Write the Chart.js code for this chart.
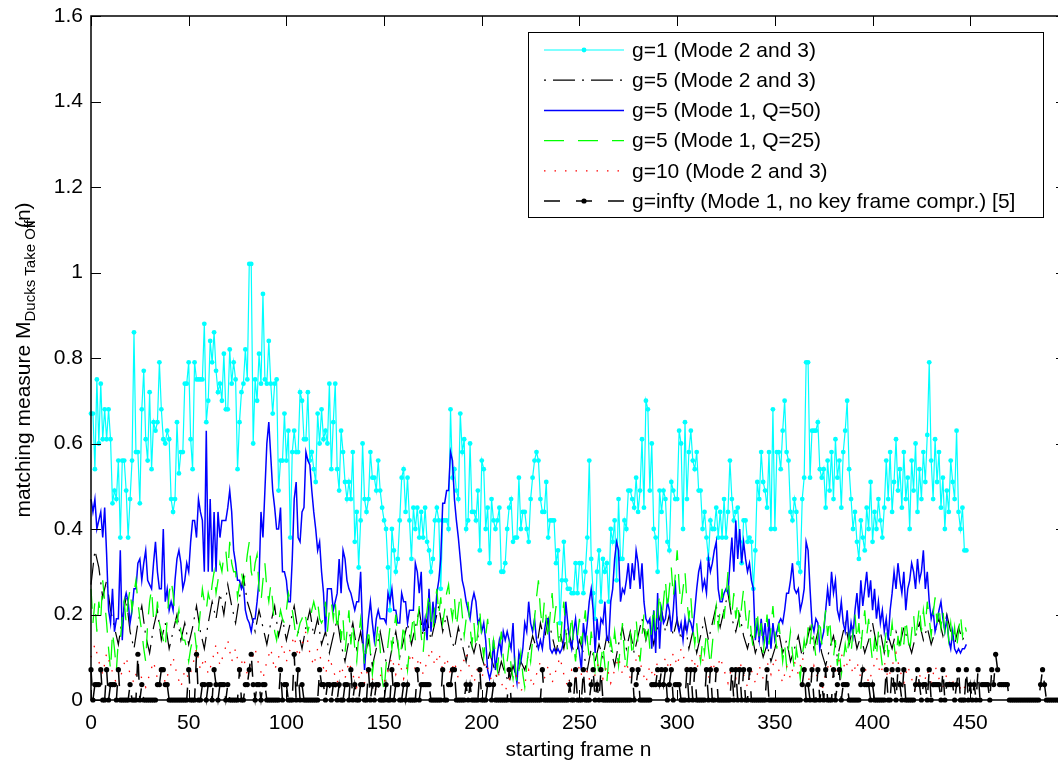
<!DOCTYPE html>
<html>
<head>
<meta charset="utf-8">
<script src="https://cdn.jsdelivr.net/npm/chart.js@4.4.1/dist/chart.umd.min.js"></script>
<style>
html, body { margin: 0; padding: 0; background: #fff; overflow: hidden; }
#wrap { position: relative; width: 1080px; height: 765px; }
</style>
</head>
<body>
<div id="wrap"><canvas id="chart" width="1080" height="765"></canvas></div>
<script>
// tick labels
const xTicks = [0, 50, 100, 150, 200, 250, 300, 350, 400, 450];
const yTicks = [0, 0.2, 0.4, 0.6, 0.8, 1, 1.2, 1.4, 1.6];

const seriesLabels = [
    'g=1 (Mode 2 and 3)',
    'g=5 (Mode 2 and 3)',
    'g=5 (Mode 1, Q=50)',
    'g=5 (Mode 1, Q=25)',
    'g=10 (Mode 2 and 3)',
    'g=infty (Mode 1, no key frame compr.) [5]'
];

// g=1 (Mode 2 and 3), one value per frame from 0
const g1Mode23 = [
    0.67,0.67,0.54,0.75,0.60,0.74,0.61,0.68,0.61,0.68,
    0.61,0.46,0.49,0.47,0.56,0.38,0.56,0.56,0.49,0.38,
    0.47,0.56,0.86,0.58,0.58,0.46,0.68,0.77,0.61,0.56,
    0.72,0.54,0.65,0.63,0.65,0.79,0.68,0.61,0.60,0.63,
    0.61,0.47,0.44,0.47,0.65,0.53,0.58,0.58,0.74,0.74,
    0.79,0.61,0.54,0.79,0.75,0.75,0.75,0.75,0.88,0.65,
    0.70,0.84,0.79,0.86,0.77,0.72,0.74,0.70,0.81,0.68,
    0.68,0.82,0.74,0.79,0.75,0.54,0.65,0.72,0.74,0.82,
    0.75,1.02,1.02,0.60,0.75,0.70,0.81,0.74,0.95,0.75,
    0.74,0.84,0.74,0.67,0.74,0.75,0.49,0.56,0.56,0.67,
    0.56,0.63,0.38,0.58,0.63,0.58,0.58,0.72,0.70,0.61,
    0.61,0.72,0.56,0.58,0.54,0.51,0.67,0.60,0.68,0.61,
    0.63,0.60,0.74,0.54,
    0.65,0.74,0.54,0.49,0.63,0.58,0.51,0.47,
    0.51,0.47,0.58,0.37,0.44,0.31,0.42,0.60,0.47,0.44,
    0.47,0.58,0.52,0.52,0.49,0.56,0.49,0.45,0.42,0.40,
    0.31,0.21,0.40,0.35,0.30,0.33,0.42,0.52,0.54,0.44,
    0.52,0.42,0.33,0.45,0.40,0.45,0.38,0.44,0.38,0.45,
    0.37,0.35,0.30,0.33,0.42,0.45,0.42,0.26,0.42,0.42,
    0.42,0.40,0.68,0.52,0.54,0.49,0.47,0.67,0.58,0.61,
    0.40,0.42,0.60,0.44,0.44,0.42,0.49,0.35,0.56,0.54,
    0.40,0.45,0.32,0.47,0.42,0.40,0.42,0.45,0.30,0.30,
    0.32,0.40,0.45,0.47,0.37,0.38,0.38,0.52,0.40,0.44,
    0.44,0.40,0.37,0.47,0.52,0.56,0.58,0.56,0.47,0.44,
    0.44,0.51,0.38,0.42,0.42,0.42,0.32,0.35,0.18,0.28,
    0.37,0.28,0.26,0.26,0.25,0.25,0.32,
    0.25,0.32,0.32,0.25,0.30,0.38,0.56,
    0.33,0.25,0.19,0.30,0.35,0.23,0.33,0.30,0.32,0.23,
    0.40,0.37,0.42,0.28,0.47,0.33,0.33,0.42,0.40,0.49,
    0.49,0.47,0.45,0.52,0.44,0.49,0.61,0.45,0.70,0.68,
    0.49,0.60,0.40,0.38,0.30,0.49,0.44,0.49,0.47,0.37,
    0.35,0.51,0.49,0.47,0.47,0.63,0.60,0.40,0.65,0.47,
    0.58,0.63,0.56,0.54,0.58,0.49,0.49,0.40,0.44,0.38,
    0.33,0.42,0.40,0.40,0.45,0.38,0.44,0.38,0.47,0.38,
    0.44,0.56,0.47,0.42,0.44,0.45,0.37,0.32,0.42,0.42,
    0.37,0.38,0.37,0.26,0.35,0.51,0.47,0.58,0.51,0.49,
    0.45,0.58,0.40,0.68,0.40,0.58,0.58,0.54,0.63,0.70,
    0.58,0.56,0.44,0.42,0.47,0.44,0.32,0.30,0.47,0.52,
    0.79,0.79,0.52,0.63,0.63,0.63,0.65,0.54,0.52,
    0.54,0.45,0.56,0.49,0.58,0.47,0.61,0.52,0.56,0.45,0.58,0.63,0.70,0.54,0.47,0.40,
    0.44,0.37,0.33,0.42,0.38,0.35,0.45,0.40,0.51,0.37,0.44,0.40,0.47,0.42,0.38,
    0.45,0.56,0.47,0.58,0.44,0.51,0.61,0.49,0.54,0.45,0.58,0.47,0.52,0.40,0.56,
    0.49,0.60,0.44,0.54,0.47,0.58,0.51,0.62,0.79,0.56,0.47,0.61,0.51,0.58,0.45,
    0.52,0.40,0.49,0.44,0.56,0.51,0.47,0.63,0.44,0.40,0.45,0.35,0.35
];

// g=5 (Mode 2 and 3), every 2nd frame from 0
const g5Mode23 = [
    0.27,0.35,0.31,0.24,0.28,0.21,0.17,0.13,0.19,0.24,0.16,0.12,0.18,0.22,0.15,0.11,0.17,0.21,0.14,0.18,0.12,0.16,0.20,0.14,0.18,
    0.13,0.17,0.22,0.16,0.12,0.18,0.23,0.19,0.25,0.20,0.27,0.22,0.18,0.24,0.29,0.23,0.20,0.16,0.21,0.17,0.13,0.18,0.22,0.15,0.19,
    0.14,0.18,0.22,0.16,0.12,0.17,0.21,0.15,0.19,0.13,0.16,0.11,0.15,0.19,0.13,0.09,0.14,0.18,0.12,0.16,0.10,0.14,0.08,0.12,0.16,
    0.11,0.07,0.12,0.16,0.10,0.14,0.18,0.13,0.17,0.21,0.15,0.19,0.14,0.18,0.22,0.16,0.20,0.15,0.12,0.17,0.13,0.09,0.14,0.11,0.15,
    0.10,0.07,0.11,0.08,0.05,0.09,0.06,0.04,0.08,0.05,0.09,0.07,0.11,0.15,0.12,0.18,0.14,0.19,0.15,0.11,0.16,0.12,0.17,0.13,0.10,
    0.14,0.11,0.07,0.12,0.09,0.13,0.10,0.15,0.12,0.08,0.13,0.17,0.12,0.16,0.11,0.15,0.19,0.14,0.18,0.13,0.17,0.21,0.16,0.20,0.15,
    0.19,0.14,0.18,0.12,0.16,0.11,0.15,0.19,0.14,0.18,0.22,0.17,0.21,0.25,0.19,0.16,0.20,0.15,0.12,0.16,0.11,0.14,0.10,0.13,0.09,
    0.12,0.16,0.11,0.14,0.09,0.12,0.15,0.10,0.13,0.17,0.12,0.16,0.11,0.08,0.12,0.15,0.10,0.14,0.18,0.13,0.17,0.12,0.15,0.11,0.14,
    0.18,0.13,0.16,0.11,0.15,0.12,0.16,0.13,0.17,0.14,0.11,0.15,0.18,0.14,0.17,0.13,0.16,0.19,0.15,0.20,0.16,0.13,0.17,0.14,0.16
];

// g=5 (Mode 1, Q=50), one value per frame from 0
const g5Q50 = [
    0.47,0.44,0.47,0.40,0.42,0.44,0.38,0.45,0.34,0.21,
    0.18,0.26,0.16,0.19,0.19,0.35,0.14,0.23,0.25,0.23,
    0.18,0.21,0.26,0.26,0.32,0.33,0.28,0.32,0.35,0.28,
    0.27,0.26,0.32,0.37,0.30,0.26,0.26,0.40,0.23,0.26,
    0.21,0.23,0.21,0.28,0.33,0.35,0.32,0.26,0.28,0.32,
    0.30,0.37,0.42,0.42,0.38,0.47,0.44,0.42,0.30,0.63,
    0.30,0.47,0.30,0.44,0.30,0.44,0.38,0.42,0.42,0.42,
    0.45,0.49,0.44,0.35,0.32,0.28,0.28,0.26,0.27,0.21,
    0.19,0.18,0.16,0.19,0.19,0.23,0.28,0.44,0.38,0.49,
    0.60,0.65,0.57,0.49,0.45,0.40,0.40,0.45,0.30,0.30,
    0.28,0.23,0.23,0.33,0.47,0.51,0.38,0.37,0.44,0.45,
    0.58,0.56,0.55,0.49,0.44,0.40,0.35,0.37,0.30,0.25,
    0.16,0.26,
    0.26,0.26,0.21,0.23,0.25,0.33,0.25,0.35,0.33,0.28,
    0.26,0.25,0.23,0.21,0.23,0.23,0.30,0.16,0.07,0.14,
    0.19,0.23,0.18,0.14,0.19,0.21,0.19,0.19,0.19,0.18,
    0.25,0.23,0.26,0.21,0.21,0.18,0.18,0.25,0.23,0.23,
    0.18,0.21,0.21,0.21,0.32,0.30,0.25,0.30,0.16,0.19,
    0.14,0.26,0.16,0.23,0.18,0.25,0.28,0.33,0.46,0.46,
    0.49,0.49,0.58,0.56,0.47,0.42,0.38,0.33,0.28,0.26,
    0.23,0.21,0.19,0.23,0.25,0.23,0.18,0.19,0.16,0.18,
    0.14,0.07,0.05,0.07,0.14,0.07,0.11,0.14,0.11,0.16,
    0.14,0.16,0.14,0.12,0.18,0.07,0.04,0.11,0.09,0.12,
    0.18,0.16,0.23,0.18,0.16,0.19,0.14,0.12,0.14,0.12,
    0.16,0.19,0.19,0.12,0.11,0.12,0.11,0.12,0.11,0.12,
    0.14,0.23,0.18,0.14,0.12,0.16,0.19,
    0.14,0.11,0.07,0.18,0.14,0.18,0.23,0.26,0.21,0.11,
    0.19,0.14,0.19,0.18,0.23,0.14,0.14,0.23,0.26,0.33,
    0.37,0.35,0.23,0.26,0.25,0.28,0.32,0.26,0.32,0.28,
    0.35,0.32,0.26,0.32,0.23,0.19,0.18,0.19,0.12,0.21,
    0.11,0.25,0.12,0.21,0.18,0.19,0.23,0.21,0.16,0.21,
    0.28,0.18,0.16,0.18,0.14,0.19,0.16,0.19,0.18,0.16,
    0.21,0.26,0.30,0.32,0.26,0.28,0.25,0.33,0.30,0.32,
    0.35,0.37,0.26,0.23,0.23,0.25,0.26,0.25,0.32,0.38,
    0.30,0.42,0.33,0.40,0.32,0.37,0.33,0.30,0.32,0.28,
    0.26,0.14,0.18,0.14,0.19,0.14,0.18,0.12,0.19,0.12,
    0.18,0.14,0.16,0.18,0.19,0.18,0.21,0.25,0.25,0.28,
    0.32,0.26,0.25,0.26,0.21,0.23,0.26,0.37,0.35,0.26,
    0.18,0.16,0.19,0.18,0.12,0.14,
    0.16,0.21,0.26,0.22,0.30,0.25,0.28,0.21,0.19,0.23,0.18,0.16,0.21,0.14,0.18,0.15,
    0.21,0.25,0.19,0.28,0.22,0.26,0.30,0.24,0.28,0.21,0.26,0.19,0.23,0.18,0.21,
    0.16,0.19,0.14,0.21,0.25,0.30,0.26,0.32,0.28,0.25,0.30,0.21,0.26,0.28,0.32,
    0.30,0.26,0.33,0.28,0.30,0.35,0.26,0.30,0.23,0.19,0.21,0.16,0.18,0.21,0.23,
    0.19,0.16,0.19,0.14,0.12,0.16,0.12,0.11,0.12,0.11,0.12,0.12,0.13
];

// g=5 (Mode 1, Q=25), one value per frame from 0
const g5Q25 = [
    0.26,0.18,0.23,0.16,0.23,0.19,0.28,0.23,0.18,0.12,
    0.07,0.16,0.12,0.07,0.14,0.14,0.19,0.23,0.18,0.23,
    0.26,0.21,0.25,0.28,0.23,0.19,0.16,0.12,0.09,0.18,
    0.23,0.26,0.19,0.18,0.23,0.18,0.16,0.14,0.12,0.19,
    0.25,0.28,0.25,0.19,0.18,0.21,0.16,0.14,0.14,0.12,
    0.09,0.12,0.14,0.16,0.12,0.16,0.21,0.26,0.23,0.21,
    0.25,0.23,0.27,0.30,0.25,0.28,0.32,0.30,0.34,0.35,
    0.30,0.37,0.32,0.30,0.30,0.24,0.27,0.30,0.27,0.30,
    0.34,0.37,0.30,0.28,0.32,0.34,0.26,0.23,0.28,0.32,
    0.26,0.23,0.27,0.23,0.16,0.14,0.18,0.21,0.19,0.18,
    0.21,0.25,0.23,0.21,0.18,0.14,0.16,0.18,0.19,0.21,
    0.19,0.16,0.18,0.21,0.23,0.21,0.23,0.19,0.18,0.19,
    0.23,0.16,0.21,0.23,
    0.19,0.23,0.16,0.21,0.14,0.19,0.11,0.16,0.21,0.13,
    0.18,0.12,0.09,0.15,0.19,0.14,0.08,0.12,0.17,0.11,
    0.06,0.10,0.14,0.18,0.12,0.05,0.02,0.08,0.13,0.17,
    0.12,0.16,0.20,0.14,0.09,0.13,0.18,0.11,0.07,0.12,
    0.16,0.20,0.14,0.18,0.22,0.15,0.11,0.17,0.21,0.25,
    0.19,0.16,0.22,0.26,0.20,0.24,0.18,0.21,0.25,0.27,
    0.22,0.19,0.24,0.17,0.21,0.25,0.20,0.15,0.19,0.23,
    0.17,0.13,0.18,0.12,0.16,0.21,0.14,0.10,0.15,0.19,
    0.13,0.09,0.14,0.11,0.07,0.12,0.16,0.10,0.06,0.09,
    0.13,0.08,0.05,0.09,0.04,0.07,0.11,0.06,0.03,0.08,
    0.12,0.09,0.14,0.19,0.24,0.28,0.21,0.17,0.23,0.19,
    0.14,0.20,0.25,0.18,0.22,0.15,0.12,0.18,0.23,0.16,
    0.11,0.15,0.20,0.13,0.09,
    0.15,0.19,0.13,0.17,0.21,0.14,0.10,0.16,0.12,0.07,
    0.11,0.05,0.09,0.13,0.08,0.04,0.10,0.14,0.11,0.16,
    0.12,0.08,0.13,0.18,0.11,0.07,0.12,0.16,0.10,0.14,
    0.19,0.13,0.09,0.15,0.20,0.14,0.18,0.12,0.17,0.22,
    0.16,0.20,0.25,0.18,0.23,0.28,0.21,0.26,0.31,0.24,
    0.29,0.35,0.27,0.22,0.26,0.30,0.23,0.19,0.24,0.17,
    0.13,0.18,0.12,0.09,0.14,0.11,0.16,0.12,0.08,0.13,
    0.18,0.22,0.17,0.21,0.26,0.19,0.24,0.30,0.23,0.20,
    0.25,0.19,0.23,0.17,0.22,0.26,0.20,0.16,0.21,0.15,
    0.12,0.17,0.21,0.14,0.18,0.11,0.15,0.20,0.13,0.17,
    0.22,0.16,0.12,0.18,0.14,0.09,0.13,0.08,0.12,0.16,
    0.11,0.07,0.12,0.09,0.05,0.10,0.14,0.11,0.17,0.13,
    0.18,0.14,0.10,0.15,0.19,0.13,
    0.17,0.21,0.15,0.19,0.13,0.10,0.14,0.08,0.12,0.06,0.09,0.13,0.10,0.15,0.11,0.16,
    0.20,0.14,0.18,0.12,0.17,0.21,0.15,0.19,0.13,0.09,0.14,0.10,0.16,0.12,0.08,
    0.12,0.16,0.10,0.14,0.18,0.13,0.09,0.15,0.11,0.17,0.13,0.19,0.15,0.11,0.16,
    0.20,0.14,0.18,0.22,0.16,0.21,0.17,0.23,0.19,0.15,0.20,0.24,0.18,0.22,0.17,
    0.21,0.16,0.19,0.14,0.18,0.13,0.17,0.12,0.16,0.20,0.15,0.18,0.16
];

// g=10 (Mode 2 and 3), every 2nd frame from 0
const g10Mode23 = [
    0.10,0.13,0.09,0.06,0.11,0.08,0.05,0.03,0.07,0.10,0.06,0.04,0.08,0.05,0.03,0.06,0.09,0.05,0.08,0.04,0.07,0.10,0.06,0.03,0.07,
    0.05,0.08,0.12,0.07,0.10,0.06,0.09,0.13,0.08,0.11,0.14,0.09,0.12,0.07,0.10,0.06,0.09,0.12,0.08,0.05,0.09,0.12,0.07,0.10,0.13,
    0.09,0.12,0.15,0.10,0.13,0.16,0.11,0.08,0.12,0.09,0.06,0.10,0.07,0.04,0.08,0.05,0.09,0.06,0.03,0.07,0.04,0.08,0.05,0.02,0.06,
    0.04,0.07,0.10,0.06,0.09,0.05,0.08,0.11,0.07,0.10,0.06,0.09,0.12,0.08,0.11,0.07,0.10,0.06,0.09,0.05,0.08,0.11,0.07,0.04,0.08,
    0.05,0.09,0.06,0.03,0.07,0.04,0.02,0.05,0.03,0.06,0.02,0.04,0.07,0.03,0.06,0.09,0.05,0.08,0.04,0.07,0.10,0.06,0.03,0.07,0.05,
    0.08,0.04,0.07,0.03,0.06,0.09,0.05,0.08,0.04,0.07,0.10,0.06,0.09,0.05,0.08,0.11,0.07,0.04,0.08,0.05,0.09,0.06,0.10,0.07,0.11,
    0.08,0.12,0.09,0.06,0.10,0.07,0.11,0.08,0.05,0.09,0.06,0.10,0.07,0.04,0.08,0.05,0.09,0.06,0.03,0.07,0.04,0.08,0.05,0.09,0.06,
    0.10,0.07,0.04,0.08,0.05,0.09,0.06,0.10,0.07,0.04,0.08,0.05,0.02,0.06,0.09,0.05,0.08,0.11,0.07,0.10,0.06,0.09,0.05,0.08,0.04,
    0.07,0.10,0.06,0.09,0.05,0.08,0.11,0.07,0.04,0.08,0.05,0.02,0.06,0.03,0.07,0.04,0.08,0.05,0.03,0.06,0.03,0.05,0.02,0.04,0.02
];

// g=infty (Mode 1, no key frame compr.), one value per frame from 0
const gInfty = [
    0.071,0,0.036,0.036,0.036,0.071,0,0,0.071,0,0.036,0.036,0.036,0,0.071,0,0,0,0,0,0.036,0,0,0,0.107,
    0,0.036,0,0,0,0,0,0,0,0.036,0.036,0.071,0.071,0.036,0.036,0,0,0,0,0,0,0,0,0,0,
    0.071,0,0,0,0.107,0,0,0.036,0.036,0,0.036,0.036,0,0.071,0.036,0,0.036,0.036,0.036,0,0.036,0,0,0,0,
    0,0.071,0,0,0.036,0.036,0.071,0.107,0.036,0,0.036,0.036,0,0.036,0.036,0,0,0,0,0,0,0,0.071,0,0.036,
    0.036,0,0,0,0.107,0,0.071,0,0.036,0,0,0,0,0,0,0,0,0.071,0.036,0.036,0,0.036,0.036,0,0.036,
    0.036,0,0.036,0,0,0.036,0.036,0,0.071,0,0.036,0,0,0.036,0.036,0,0,0.071,0,0.036,0,0.036,0.036,0,0,
    0,0.036,0,0,0.071,0,0.036,0.036,0,0,0.036,0,0.036,0,0,0,0,0.071,0,0.036,0.036,0.036,0.036,0.036,0,
    0,0,0,0,0,0.071,0,0,0.036,0.036,0.071,0.071,0,0,0,0,0,0.036,0,0.036,0,0,0,0,0.071,
    0,0,0,0.036,0.036,0,0.036,0,0,0,0,0,0,0,0.071,0,0,0,0,0,0,0,0,0,0,
    0,0,0,0,0,0,0.071,0,0,0,0,0,0,0,0,0,0,0,0,0,0.036,0,0,0.071,0,
    0,0,0.071,0,0,0,0.036,0.071,0,0.036,0,0.071,0,0,0,0,0,0,0,0,0,0,0,0,0,
    0,0,0.071,0,0.036,0.071,0,0,0,0,0,0,0.036,0.036,0.036,0.071,0.036,0.071,0.036,0.071,0,0.036,0.071,0,0.036,
    0.036,0.036,0,0,0,0.071,0,0.071,0,0.071,0,0,0,0,0,0.071,0,0.071,0,0,0.071,0,0,0,0,
    0,0,0,0.071,0,0.071,0,0.071,0,0.071,0,0,0.071,0,0,0,0,0,0,0,0,0.071,0,0,0,
    0,0,0,0,0,0,0,0,0,0,0,0,0,0,0.036,0.071,0,0.036,0,0.071,0,0,0.071,0,0.036,
    0,0.071,0,0,0,0.071,0,0.036,0.071,0,0.036,0.036,0.036,0,0,0,0,0,0,0.036,0.071,0.036,0.036,0.036,0,
    0.036,0,0,0,0,0,0,0.071,0,0,0.071,0.036,0,0.071,0.036,0,0.071,0,0,0,0,0,0.036,0.071,0.036,
    0,0.036,0.036,0,0.071,0,0.036,0.036,0.036,0.036,0,0.071,0,0.036,0.036,0.036,0.036,0,0.036,0.071,0,0,0,0.071,0,
    0.036,0,0.036,0,0.071,0,0.036,0.036,0.036,0.036,0,0.071,0.036,0.107,0.071,0.036,0.036,0.036,0.036,0.036,0,0,0,0,0,
    0,0,0,0,0,0,0,0,0,0,0,0.036,0.071,0.036,0,0,0,0,0,0,0,0,0,0,0
];

const FONT = '"Liberation Sans", Arial, Helvetica, sans-serif';

function toPoints(values, step) {
    return values.map((v, i) => ({ x: i * step, y: v }));
}

const datasets = [
    { label: seriesLabels[0], data: toPoints(g1Mode23, 1), borderColor: '#00ffff', borderWidth: 1.2,
      pointRadius: 2.4, pointBackgroundColor: '#00ffff', pointBorderWidth: 0, order: 6 },
    { label: seriesLabels[1], data: toPoints(g5Mode23, 2), borderColor: '#000000', borderWidth: 1.2,
      borderDash: [22, 7, 2, 7], legendDashOffset: 29, pointRadius: 0, order: 5 },
    { label: seriesLabels[2], data: toPoints(g5Q50, 1), borderColor: '#0000ff', borderWidth: 1.5,
      pointRadius: 0, order: 4 },
    { label: seriesLabels[3], data: toPoints(g5Q25, 1), borderColor: '#00ff00', borderWidth: 1.3,
      borderDash: [20, 14], pointRadius: 0, order: 3 },
    { label: seriesLabels[4], data: toPoints(g10Mode23, 2), borderColor: '#ff0000', borderWidth: 1.3,
      borderDash: [1.5, 9], pointRadius: 0, order: 2 },
    { label: seriesLabels[5], data: toPoints(gInfty, 1), borderColor: '#000000', borderWidth: 1.5,
      borderDash: [16, 16], pointRadius: 2.6, pointBackgroundColor: '#000000', pointBorderWidth: 0, order: 1 }
];
datasets.forEach(ds => { ds.clip = false; ds.tension = 0; ds.fill = false; });

// axis box, inward ticks, legend box and axis titles in the MATLAB style
const matlabLook = {
    id: 'matlabLook',
    afterDraw(chart) {
        const ctx = chart.ctx;
        const a = chart.chartArea;
        const x = chart.scales.x, y = chart.scales.y;
        ctx.save();
        ctx.setLineDash([]);
        ctx.strokeStyle = '#000';
        ctx.lineWidth = 1.5;
        ctx.strokeRect(a.left, a.top, a.right - a.left, a.bottom - a.top);

        ctx.lineWidth = 1;
        ctx.beginPath();
        xTicks.forEach(v => {
            const px = Math.round(x.getPixelForValue(v)) + 0.5;
            ctx.moveTo(px, a.bottom); ctx.lineTo(px, a.bottom - 10);
            ctx.moveTo(px, a.top); ctx.lineTo(px, a.top + 10);
        });
        yTicks.forEach(v => {
            const py = Math.round(y.getPixelForValue(v)) + 0.5;
            ctx.moveTo(a.left, py); ctx.lineTo(a.left + 10, py);
            ctx.moveTo(a.right, py); ctx.lineTo(a.right - 10, py);
        });
        ctx.stroke();

        // legend
        const lx = 528, ly = 32, lw = 515, lh = 185;
        ctx.fillStyle = '#fff';
        ctx.fillRect(lx, ly, lw, lh);
        ctx.strokeStyle = '#000';
        ctx.lineWidth = 1;
        ctx.strokeRect(lx + 0.5, ly + 0.5, lw, lh);
        chart.data.datasets.forEach((ds, i) => {
            const ry = ly + 18 + i * 30.2;
            ctx.strokeStyle = ds.borderColor;
            ctx.lineWidth = ds.borderWidth;
            ctx.setLineDash(ds.borderDash || []);
            ctx.lineDashOffset = ds.legendDashOffset || 0;
            ctx.beginPath();
            ctx.moveTo(544, ry); ctx.lineTo(624, ry);
            ctx.stroke();
            ctx.setLineDash([]);
            ctx.lineDashOffset = 0;
            if (ds.pointRadius > 0) {
                ctx.fillStyle = ds.pointBackgroundColor;
                ctx.beginPath();
                ctx.arc(584, ry, ds.pointRadius, 0, Math.PI * 2);
                ctx.fill();
            }
            ctx.fillStyle = '#000';
            ctx.font = '21px ' + FONT;
            ctx.textAlign = 'left';
            ctx.textBaseline = 'middle';
            ctx.fillText(ds.label, 632, ry + 1);
        });

        // x title
        ctx.fillStyle = '#000';
        ctx.font = '21px ' + FONT;
        ctx.textAlign = 'center';
        ctx.textBaseline = 'alphabetic';
        ctx.fillText('starting frame n', (a.left + a.right) / 2, 756);

        // y title with subscript
        const main = 'matching measure M', sub = 'Ducks Take Off', tail = '(n)';
        ctx.font = '21px ' + FONT;
        const wMain = ctx.measureText(main).width;
        const wTail = ctx.measureText(tail).width;
        ctx.font = '15px ' + FONT;
        const wSub = ctx.measureText(sub).width;
        const total = wMain + wSub - 8 + wTail;
        ctx.translate(30, (a.top + a.bottom) / 2 + 2);
        ctx.rotate(-Math.PI / 2);
        ctx.textAlign = 'left';
        const s = -total / 2;
        ctx.font = '21px ' + FONT;
        ctx.fillText(main, s, 0);
        ctx.font = '15px ' + FONT;
        ctx.fillText(sub, s + wMain, 5);
        ctx.font = '21px ' + FONT;
        ctx.fillText(tail, s + wMain + wSub - 8, 0);
        ctx.restore();
    }
};

new Chart(document.getElementById('chart'), {
    type: 'line',
    data: { datasets: datasets },
    options: {
        responsive: false,
        animation: false,
        events: [],
        layout: { padding: { top: 16, right: 14, left: 0, bottom: 0 } },
        plugins: { legend: { display: false }, tooltip: { enabled: false } },
        scales: {
            x: {
                type: 'linear',
                min: 0,
                max: 499,
                grid: { display: false },
                border: { display: false },
                afterBuildTicks: axis => { axis.ticks = xTicks.map(v => ({ value: v })); },
                afterFit: axis => { axis.height = 65; },
                ticks: { color: '#000', font: { family: FONT, size: 21 }, padding: 3, maxRotation: 0, autoSkip: false }
            },
            y: {
                type: 'linear',
                min: 0,
                max: 1.6,
                grid: { display: false },
                border: { display: false },
                afterBuildTicks: axis => { axis.ticks = yTicks.map(v => ({ value: v })); },
                afterFit: axis => { axis.width = 91; },
                ticks: {
                    color: '#000',
                    font: { family: FONT, size: 21 },
                    padding: 0,
                    callback: v => String(Math.round(v * 10) / 10)
                }
            }
        }
    },
    plugins: [matlabLook]
});
</script>
</body>
</html>
